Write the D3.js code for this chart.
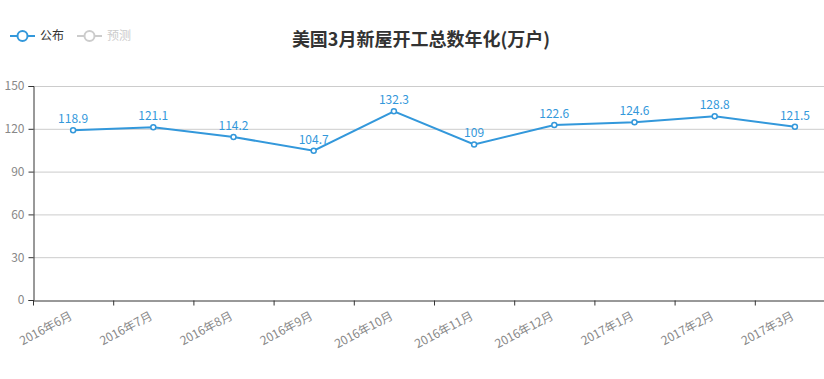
<!DOCTYPE html>
<html>
<head>
<meta charset="utf-8">
<script src="https://cdn.jsdelivr.net/npm/d3@7"></script>
<style>
  body { margin: 0; background: #fff; }
  svg { display: block; font-family: "Microsoft YaHei", "Noto Sans CJK SC", sans-serif; }
</style>
</head>
<body>
<div id="root"></div>
<script>
const months = ["2016年6月", "2016年7月", "2016年8月", "2016年9月", "2016年10月",
  "2016年11月", "2016年12月", "2017年1月", "2017年2月", "2017年3月"]
const published = [118.9, 121.1, 114.2, 104.7, 132.3, 109, 122.6, 124.6, 128.8, 121.5]
const yTicks = [0, 30, 60, 90, 120, 150]
const legendNames = ["公布", "预测"]

const width = 824
const height = 379
const margin = { top: 86, right: -11, bottom: 79, left: 33 }
const boundedWidth = width - margin.left - margin.right
const boundedHeight = height - margin.top - margin.bottom
const lineColor = "#3398DB"

const svg = d3.select("#root").append("svg")
  .attr("width", width)
  .attr("height", height)

// title
svg.append("text")
  .attr("x", 421)
  .attr("y", 46)
  .attr("text-anchor", "middle")
  .attr("font-size", 18)
  .attr("font-weight", "bold")
  .attr("fill", "#333")
  .text("美国3月新屋开工总数年化(万户)")

// legend
const legend = svg.append("g").attr("transform", "translate(10, 36)")
legendNames.forEach((name, i) => {
  const g = legend.append("g").attr("transform", `translate(${i * 67}, 0)`)
  const c = i === 0 ? lineColor : "#ccc"
  g.append("line").attr("x1", 0).attr("x2", 25).attr("y1", 0).attr("y2", 0)
    .attr("stroke", c).attr("stroke-width", 2)
  g.append("circle").attr("cx", 12.5).attr("cy", 0).attr("r", 5)
    .attr("fill", "#fff").attr("stroke", c).attr("stroke-width", 2)
  g.append("text").attr("x", 30).attr("y", 4)
    .attr("font-size", 12)
    .attr("fill", i === 0 ? "#333" : "#ccc")
    .text(name)
})

const bounds = svg.append("g")
  .attr("transform", `translate(${margin.left}, ${margin.top})`)

const xScale = d3.scaleBand()
  .domain(months)
  .range([0, boundedWidth])

const yScale = d3.scaleLinear()
  .domain([0, 150])
  .range([boundedHeight, 0])

// grid
bounds.append("g")
  .selectAll("line")
  .data(yTicks.filter(d => d > 0))
  .join("line")
  .attr("x1", 0)
  .attr("x2", boundedWidth)
  .attr("y1", d => yScale(d) + 0.5)
  .attr("y2", d => yScale(d) + 0.5)
  .attr("stroke", "#ccc")

// y axis
const yAxis = bounds.append("g")
  .attr("transform", "translate(0.5, 0)")
  .call(d3.axisLeft(yScale).tickValues(yTicks).tickSize(5).tickPadding(4))
yAxis.select(".domain").attr("stroke", "#333")
yAxis.selectAll(".tick line").attr("stroke", "#333")
yAxis.selectAll(".tick text").attr("fill", "#888").attr("font-size", 12)
  .style("font-family", "'Microsoft YaHei', 'Noto Sans CJK SC', sans-serif")

// x axis
const xAxis = bounds.append("g")
  .attr("transform", `translate(0, ${boundedHeight + 0.5})`)
  .call(d3.axisBottom(xScale).tickSize(0).tickSizeOuter(0))
xAxis.select(".domain").attr("stroke", "#333")
xAxis.selectAll(".tick line").remove()
xAxis.append("g")
  .selectAll("line")
  .data(months)
  .join("line")
  .attr("x1", d => xScale(d) + 0.5)
  .attr("x2", d => xScale(d) + 0.5)
  .attr("y1", 0)
  .attr("y2", 5)
  .attr("stroke", "#333")
xAxis.selectAll(".tick text")
  .attr("fill", "#888")
  .attr("font-size", 12)
  .style("font-family", "'Microsoft YaHei', 'Noto Sans CJK SC', sans-serif")
  .attr("text-anchor", "end")
  .attr("dy", 0)
  .attr("y", 0)
  .attr("transform", "translate(0, 18) rotate(-28)")

// line
const xc = d => xScale(d) + xScale.bandwidth() / 2
const points = months.map((m, i) => ({ m, v: published[i] }))

bounds.append("path")
  .datum(points)
  .attr("fill", "none")
  .attr("stroke", lineColor)
  .attr("stroke-width", 2)
  .attr("d", d3.line().x(d => xc(d.m)).y(d => yScale(d.v)))

bounds.selectAll(".dot")
  .data(points)
  .join("circle")
  .attr("class", "dot")
  .attr("cx", d => xc(d.m))
  .attr("cy", d => yScale(d.v))
  .attr("r", 2.5)
  .attr("fill", "#fff")
  .attr("stroke", lineColor)
  .attr("stroke-width", 1.5)

bounds.selectAll(".val")
  .data(points)
  .join("text")
  .attr("class", "val")
  .attr("x", d => xc(d.m))
  .attr("y", d => yScale(d.v) - 7)
  .attr("text-anchor", "middle")
  .attr("font-size", 12)
  .attr("fill", lineColor)
  .text(d => d.v)
</script>
</body>
</html>
